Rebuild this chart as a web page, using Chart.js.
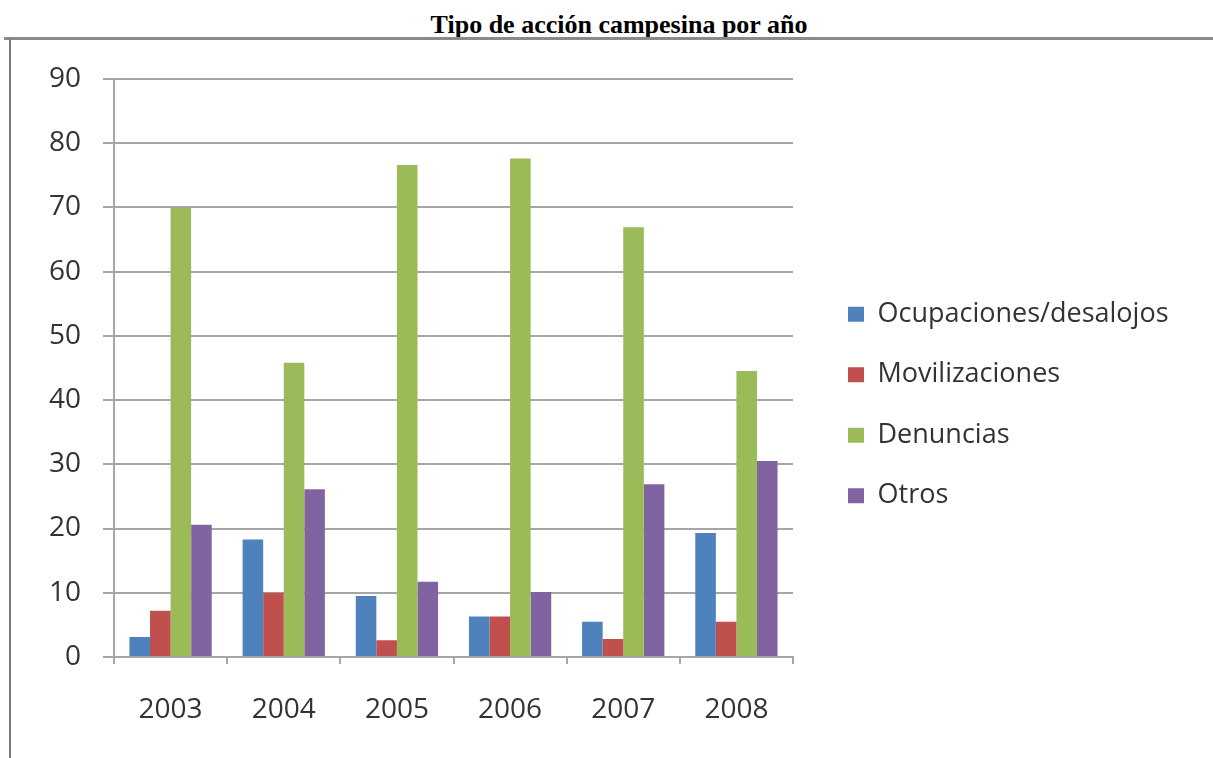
<!DOCTYPE html>
<html>
<head>
<meta charset="utf-8">
<script src="https://cdn.jsdelivr.net/npm/chart.js@4.4.1/dist/chart.umd.min.js"></script>
<style>
  html, body { margin: 0; padding: 0; background: #fff; }
  #page { position: relative; width: 1213px; height: 758px; overflow: hidden; background: #fff; }
  #title { position: absolute; left: 419px; width: 400px; top: 12px; text-align: center; line-height: 26px; white-space: nowrap;
           font-family: "Liberation Serif", "Times New Roman", serif; font-weight: bold; font-size: 26px; color: #000; }
  #topline { position: absolute; left: 4px; right: 0; top: 37px; height: 3px; background: #8a8a8a; }
  #leftline { position: absolute; left: 9px; top: 39px; bottom: 0; width: 2px; background: #7a7a7a; }
  #wrap { position: absolute; left: 0; top: 40px; width: 1213px; height: 692px; }
</style>
</head>
<body>
<div id="page">
  <div id="title">Tipo de acción campesina por año</div>
  <div id="topline"></div>
  <div id="leftline"></div>
  <div id="wrap"><canvas id="c"></canvas></div>
</div>
<script>
const categories = ['2003', '2004', '2005', '2006', '2007', '2008'];
const ocupaciones = [3.1, 18.3, 9.5, 6.3, 5.5, 19.3];
const movilizaciones = [7.2, 10.0, 2.6, 6.3, 2.8, 5.5];
const denuncias = [69.9, 45.8, 76.6, 77.6, 66.9, 44.5];
const otros = [20.6, 26.1, 11.7, 10.1, 26.9, 30.5];
const seriesNames = ['Ocupaciones/desalojos', 'Movilizaciones', 'Denuncias', 'Otros'];
const yTicks = [0, 10, 20, 30, 40, 50, 60, 70, 80, 90];

const colors = ['#4F81BD', '#C0504D', '#9BBB59', '#8064A2'];
const seriesValues = [ocupaciones, movilizaciones, denuncias, otros];

const gridColor = '#a6a6a6';
const fontFamily = '"Open Sans", "Liberation Sans", sans-serif';
const tickFont = { family: fontFamily, size: 28 };
const legendPad = 33.5;
const legendLeft = 814.5;

const chart = new Chart(document.getElementById('c'), {
  type: 'bar',
  data: {
    labels: categories,
    datasets: seriesNames.map((name, i) => ({
      label: name,
      data: seriesValues[i],
      backgroundColor: colors[i],
      borderWidth: 0,
      barPercentage: 1.0,
      categoryPercentage: 0.727
    }))
  },
  options: {
    responsive: true,
    maintainAspectRatio: false,
    animation: false,
    layout: { padding: { top: 38, left: 0, right: 0, bottom: 0 } },
    plugins: {
      title: { display: false },
      tooltip: { enabled: false },
      legend: {
        position: 'right',
        maxWidth: 600,
        labels: {
          boxWidth: 16,
          boxHeight: 15,
          padding: legendPad,
          color: '#333',
          font: { family: fontFamily, size: 27 }
        }
      }
    },
    scales: {
      x: {
        grid: { display: true, drawOnChartArea: false, offset: true, color: gridColor, lineWidth: 2, tickLength: 7 },
        border: { display: true, color: gridColor, width: 2 },
        ticks: { color: '#333', font: tickFont, padding: 29, maxRotation: 0 },
        afterFit: (s) => { s.height = 75; }
      },
      y: {
        min: 0, max: 90,
        afterBuildTicks: (s) => { s.ticks = yTicks.map(v => ({ value: v })); },
        grid: { color: gridColor, lineWidth: 2, tickLength: 11 },
        border: { display: true, color: gridColor, width: 2 },
        ticks: { color: '#333', font: tickFont, padding: 22 },
        afterFit: (s) => { s.width = 114; }
      },
      y2: {
        position: 'right',
        display: true,
        grid: { display: false },
        border: { display: false },
        ticks: { display: false },
        afterFit: (s) => { s.width = legendLeft - 793; }
      }
    }
  }
});
chart.options.layout.padding.right = Math.max(0, 1213 - legendLeft - chart.legend.width);
chart.update();
</script>
</body>
</html>
